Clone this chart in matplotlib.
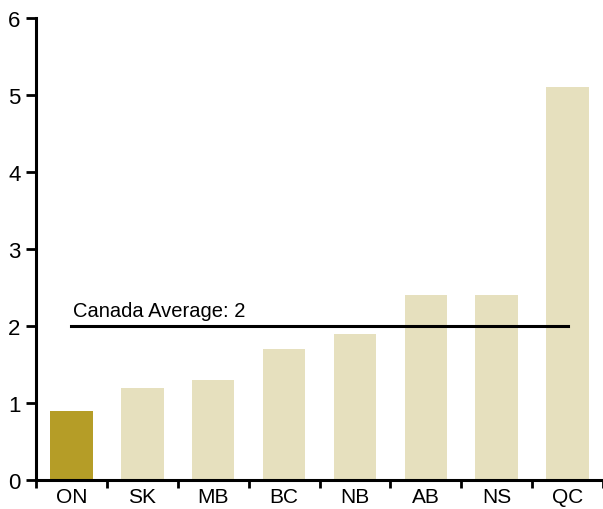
import numpy as np
import matplotlib.pyplot as plt

provinces = ["ON", "SK", "MB", "BC", "NB", "AB", "NS", "QC"]
values = [0.9, 1.2, 1.3, 1.7, 1.9, 2.4, 2.4, 5.1]
canada_avg = 2
avg_label = "Canada Average: 2"

plt.rcParams['font.family'] = ['Liberation Sans', 'DejaVu Sans']

fig = plt.figure(figsize=(6.03, 5.10), dpi=100)
ax = fig.add_axes([36 / 603, 29 / 510, 1 - 36 / 603, (481 - 19) / 510])

x = np.arange(len(provinces))
colors = ["#b59d27"] + ["#e6e0be"] * (len(provinces) - 1)
ax.bar(x, values, width=0.6, color=colors, zorder=1)

# national average line, from first to last bar centre
ax.plot([x[0], x[-1]], [canada_avg, canada_avg], color="black", lw=2.2, zorder=3)
ax.text(x[0] + 0.02, canada_avg + 0.08, avg_label, fontsize=14.5, ha="left", va="bottom")

ax.set_xlim(-0.5, len(provinces) - 0.5)
ax.set_ylim(0, 6)
ax.set_yticks(range(0, 7))
ax.set_xticks(x)
ax.set_xticklabels(provinces)
ax.set_xticks(np.arange(-0.5, len(provinces)), minor=True)
ax.tick_params(axis="x", which="major", length=0, labelsize=15, pad=5)
ax.tick_params(axis="x", which="minor", length=6, width=2)
ax.tick_params(axis="y", length=7, width=2, labelsize=16, pad=4)

for side in ["top", "right"]:
    ax.spines[side].set_visible(False)
for side in ["left", "bottom"]:
    ax.spines[side].set_linewidth(2.2)
    ax.spines[side].set_zorder(4)

fig.savefig("out.png", dpi=100)
